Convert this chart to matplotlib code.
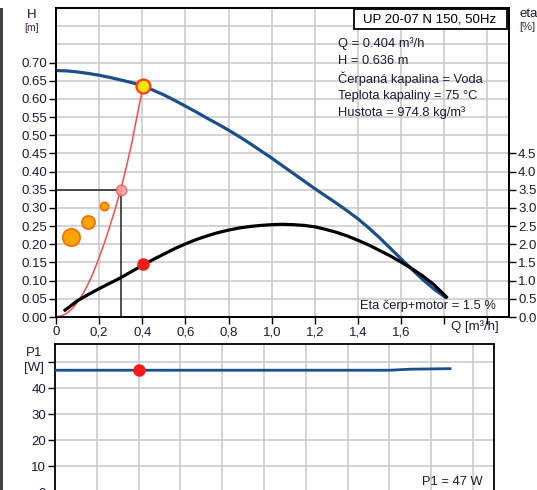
import matplotlib
matplotlib.use("Agg")
import matplotlib.pyplot as plt
from matplotlib.patches import Rectangle
import numpy as np

plt.rcParams['font.family'] = ['Liberation Sans', 'DejaVu Sans']

# pump curve H(Q)
q_head = [0, 0.05, 0.1, 0.15, 0.2, 0.25, 0.3, 0.35, 0.404, 0.45, 0.5, 0.55, 0.6, 0.65, 0.7, 0.75,
          0.8, 0.85, 0.9, 0.95, 1.0, 1.05, 1.1, 1.15, 1.2, 1.25, 1.3, 1.35, 1.4, 1.45, 1.5, 1.55,
          1.6, 1.65, 1.7, 1.75, 1.81]
head = [0.678, 0.677, 0.674, 0.670, 0.665, 0.659, 0.652, 0.645, 0.636, 0.624, 0.611, 0.596, 0.580,
        0.564, 0.547, 0.531, 0.514, 0.496, 0.477, 0.457, 0.437, 0.416, 0.395, 0.374, 0.353, 0.333,
        0.313, 0.292, 0.270, 0.245, 0.218, 0.189, 0.160, 0.131, 0.103, 0.078, 0.052]
# efficiency eta(Q) in %
q_eta = [0.042, 0.1, 0.15, 0.2, 0.25, 0.3, 0.35, 0.404, 0.45, 0.5, 0.55, 0.6, 0.65, 0.7, 0.75, 0.8,
         0.85, 0.9, 0.95, 1.0, 1.05, 1.1, 1.15, 1.2, 1.25, 1.3, 1.35, 1.4, 1.45, 1.5, 1.55, 1.6,
         1.65, 1.7, 1.75, 1.81]
eta = [0.19, 0.45, 0.62, 0.78, 0.93, 1.08, 1.25, 1.43, 1.58, 1.73, 1.88, 2.01, 2.13, 2.23, 2.32,
       2.39, 2.45, 2.49, 2.52, 2.54, 2.55, 2.54, 2.52, 2.48, 2.41, 2.33, 2.23, 2.11, 1.98, 1.83,
       1.68, 1.51, 1.33, 1.13, 0.90, 0.55]
# system curve
q_sys = [0, 0.025, 0.05, 0.075, 0.1, 0.125, 0.15, 0.175, 0.2, 0.225, 0.25, 0.275, 0.3, 0.325,
         0.35, 0.375, 0.404]
h_sys = [0, 0.003, 0.010, 0.023, 0.041, 0.064, 0.092, 0.125, 0.163, 0.205, 0.25, 0.298, 0.35,
         0.41, 0.474, 0.55, 0.636]
# power P1(Q)
q_p1 = [0, 1.6, 1.7, 1.89]
p1 = [46.9, 46.9, 47.3, 47.5]

q_op, h_op, eta_op, p1_op = 0.404, 0.636, 1.45, 47
q_ref, h_ref = 0.3, 0.35
q_dots = [0.069, 0.148, 0.222]
h_dots = [0.22, 0.261, 0.305]
dot_sizes = [12.5, 9.5, 6]

info = ["Q = 0.404 m³/h", "H = 0.636 m", "Čerpaná kapalina = Voda",
        "Teplota kapaliny = 75 °C", "Hustota = 974.8 kg/m³"]

W, H = 537, 490
def fx(px): return px / W
def fy(py): return 1 - py / H

BLUE = '#1c4f8a'
TXT = '#1a1a3a'
GRID = '#c8c8c8'

fig = plt.figure(figsize=(W / 100, H / 100), dpi=100)
fig.patch.set_facecolor('white')

# ---- top panel: H and eta ----
ax = fig.add_axes([fx(56), fy(317), fx(509) - fx(56), fy(8) - fy(317)])
ax.set_xlim(0, 2.1)
ax.set_ylim(0, 0.85)
ax.set_xticks(np.arange(0, 2.01, 0.2))
ax.set_xticklabels(["0", "0,2", "0,4", "0,6", "0,8", "1,0", "1,2", "1,4", "1,6", "", ""])
yt = np.arange(0, 0.701, 0.05)
ax.set_yticks(yt)
ax.set_yticklabels(["%.2f" % v for v in yt])
ax.set_yticks([0.75, 0.80], minor=True)
ax.tick_params(which='major', direction='out', length=5, width=1, labelsize=9.5, colors='black',
               labelcolor=TXT, pad=1.5)
ax.tick_params(which='minor', length=0)
ax.grid(True, which='both', color=GRID, linewidth=1.1)
ax.set_axisbelow(True)
for s in ax.spines.values():
    s.set_linewidth(1.3)

ax.plot(q_head, head, color=BLUE, lw=2.3, solid_capstyle='butt', zorder=3)
ax.plot(q_sys, h_sys, color='#ff4a4a', lw=1.1, zorder=4)
ax.plot([0, q_ref, q_ref], [h_ref, h_ref, 0], color='#202020', lw=1.1, zorder=3)
ax.plot(q_ref, h_ref, 'o', ms=7.5, mfc='#ffa0a0', mec='#ff5050', mew=1, alpha=0.85, zorder=5)
for qd, hd, sz in zip(q_dots, h_dots, dot_sizes):
    ax.plot(qd, hd, 'o', ms=sz, mfc='#ffa500', mec='#ff6a00', mew=1.2, zorder=5)
ax.plot(q_op, h_op, 'o', ms=10, mfc='#ffe600', mec='#ff3a20', mew=1.6, zorder=6)

ax2 = ax.twinx()
ax2.set_ylim(0, 8.5)
et = np.arange(0, 4.51, 0.5)
ax2.set_yticks(et)
ax2.set_yticklabels(["%.1f" % v for v in et])
ax2.tick_params(direction='out', length=5, width=1, labelsize=9.5, labelcolor=TXT, pad=1.5)
ax2.plot(q_eta, eta, color='black', lw=2.3, zorder=3)
ax2.plot(q_op, eta_op, 'o', ms=8, color='#ff1a1a', zorder=6)
for s in ax2.spines.values():
    s.set_linewidth(1.3)

# ---- bottom panel: P1 ----
axp = fig.add_axes([fx(55), fy(492), fx(494) - fx(55), fy(344) - fy(492)])
axp.set_xlim(0, 2.1)
axp.set_ylim(0, 57)
axp.set_xticks(np.arange(0, 2.01, 0.2))
axp.set_xticklabels([])
axp.tick_params(axis='x', length=0)
axp.set_yticks(np.arange(0, 51, 10))
axp.set_yticklabels(["0", "10", "20", "30", "40", ""])
axp.tick_params(axis='y', direction='out', length=5, width=1, labelsize=9.5, labelcolor=TXT, pad=1.5)
axp.grid(True, color=GRID, linewidth=1.1)
axp.set_axisbelow(True)
for s in axp.spines.values():
    s.set_linewidth(1.3)
axp.plot(q_p1, p1, color=BLUE, lw=2, zorder=3)
axp.plot(q_op, p1_op, 'o', ms=8, color='#ff1a1a', zorder=5)

# ---- texts ----
fig.text(fx(32), fy(15), "H", ha='center', va='center', fontsize=9.5, color=TXT)
fig.text(fx(32), fy(28), "[m]", ha='center', va='center', fontsize=7.5, color='#402048')
fig.text(fx(519), fy(14), "eta", ha='left', va='center', fontsize=9.5, color=TXT)
fig.text(fx(519), fy(27), "[%]", ha='left', va='center', fontsize=8, color='#402048')
fig.text(fx(34), fy(353), "P1", ha='center', va='center', fontsize=9.5, color=TXT)
fig.text(fx(34), fy(368), "[W]", ha='center', va='center', fontsize=9.5, color=TXT)
fig.text(fx(475), fy(327), "Q [m³/h]", ha='center', va='center', fontsize=9.5, color=TXT)

fig.add_artist(Rectangle((fx(354), fy(29)), fx(507) - fx(354), fy(9) - fy(29),
                         transform=fig.transFigure, facecolor='white', edgecolor='black', lw=1.3,
                         zorder=10))
fig.text(fx(430), fy(19), "UP 20-07 N 150, 50Hz", ha='center', va='center', fontsize=9.5,
         color='black', zorder=11)
for i, line in enumerate(info):
    fig.text(fx(338), fy(44 + 17.2 * i), line, ha='left', va='center', fontsize=9.3, color=TXT)
fig.text(fx(496), fy(306), "Eta čerp+motor = 1.5 %", ha='right', va='center', fontsize=9.3,
         color=TXT)
fig.text(fx(483), fy(482), "P1 = 47 W", ha='right', va='center', fontsize=9.3, color=TXT)

# dark frame strip on the left edge
fig.add_artist(Rectangle((0, 0), fx(3), fy(8), transform=fig.transFigure, facecolor='#404040',
                         edgecolor='none'))

fig.savefig("out.png", dpi=100)
